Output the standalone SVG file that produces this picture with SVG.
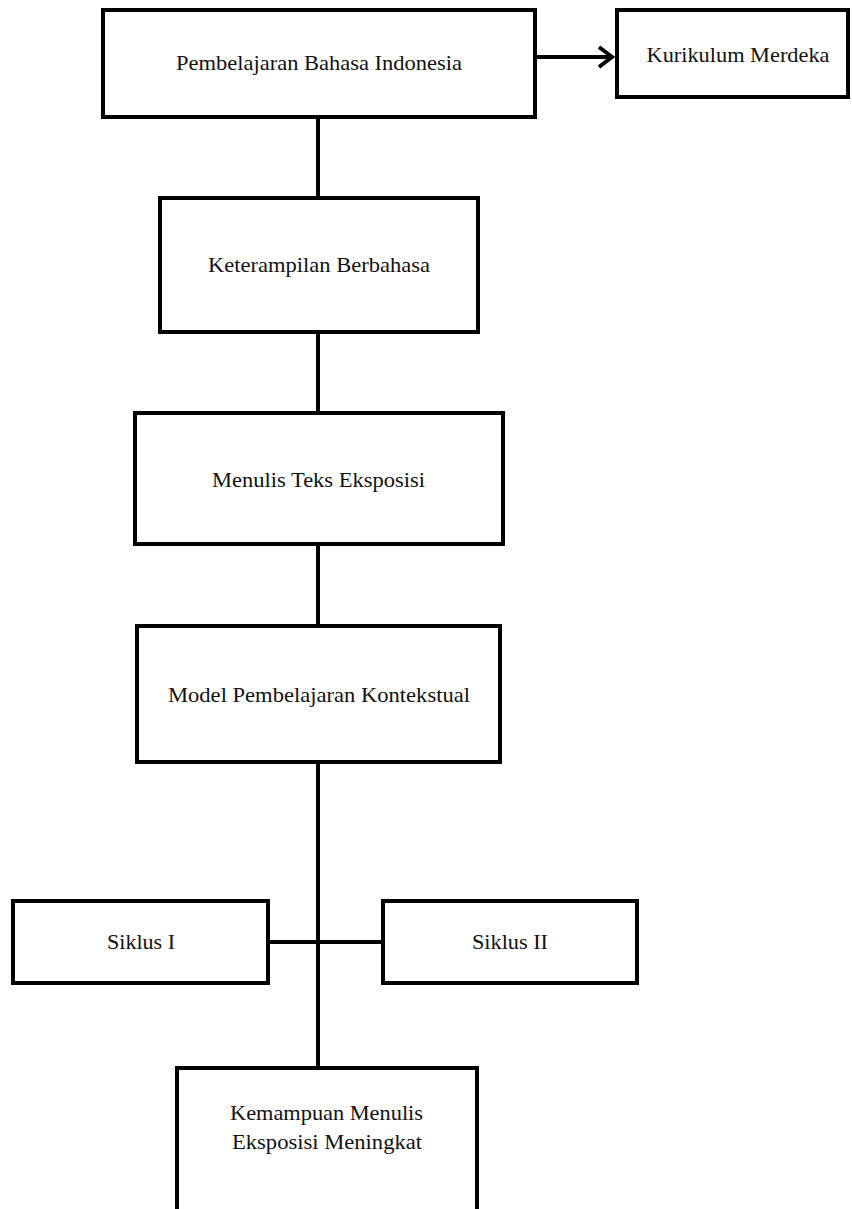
<svg xmlns="http://www.w3.org/2000/svg" width="852" height="1209" viewBox="0 0 852 1209">
<style>
.box{fill:#fff;stroke:#000;stroke-width:4;}
.lbl{font-family:"Liberation Serif","Times New Roman",serif;font-size:21px;fill:#111;text-anchor:middle;}
.con{stroke:#000;stroke-width:4;fill:none;}
</style>
<rect width="852" height="1209" fill="#fff"/>
<g id="connectors">
<line class="con" x1="318" y1="117" x2="318" y2="198"/>
<line class="con" x1="318" y1="332" x2="318" y2="413"/>
<line class="con" x1="318" y1="544" x2="318" y2="626"/>
<line class="con" x1="318" y1="762" x2="318" y2="1068"/>
<line class="con" x1="268" y1="942" x2="383" y2="942"/>
<path class="con" d="M537,57 L611,57 M599,47 L612,57 L599,67"/>
</g>
<g id="n1"><rect class="box" x="103" y="10" width="432" height="107"/><text class="lbl" x="319" y="70" textLength="286" lengthAdjust="spacingAndGlyphs">Pembelajaran Bahasa Indonesia</text></g>
<g id="n2"><rect class="box" x="617" y="10" width="231" height="87"/><text class="lbl" x="738" y="62" textLength="183" lengthAdjust="spacingAndGlyphs">Kurikulum Merdeka</text></g>
<g id="n3"><rect class="box" x="160" y="198" width="318" height="134"/><text class="lbl" x="319" y="272" textLength="222" lengthAdjust="spacingAndGlyphs">Keterampilan Berbahasa</text></g>
<g id="n4"><rect class="box" x="135" y="413" width="368" height="131"/><text class="lbl" x="318.5" y="487" textLength="213" lengthAdjust="spacingAndGlyphs">Menulis Teks Eksposisi</text></g>
<g id="n5"><rect class="box" x="137" y="626" width="363" height="136"/><text class="lbl" x="319" y="702" textLength="302" lengthAdjust="spacingAndGlyphs">Model Pembelajaran Kontekstual</text></g>
<g id="n6"><rect class="box" x="13" y="901" width="255" height="82"/><text class="lbl" x="141" y="949" textLength="68" lengthAdjust="spacingAndGlyphs">Siklus I</text></g>
<g id="n7"><rect class="box" x="383" y="901" width="254" height="82"/><text class="lbl" x="510" y="949" textLength="76" lengthAdjust="spacingAndGlyphs">Siklus II</text></g>
<g id="n8"><rect class="box" x="177" y="1068" width="300" height="150"/><text class="lbl" x="326.5" y="1120" textLength="193" lengthAdjust="spacingAndGlyphs">Kemampuan Menulis</text><text class="lbl" x="327" y="1149" textLength="190" lengthAdjust="spacingAndGlyphs">Eksposisi Meningkat</text></g>
</svg>
